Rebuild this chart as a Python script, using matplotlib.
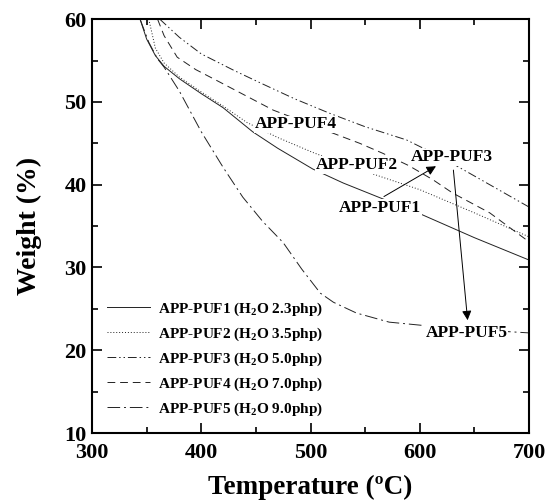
import matplotlib
matplotlib.use('Agg')
import matplotlib.pyplot as plt

plt.rcParams['font.family'] = ['Liberation Serif', 'DejaVu Serif']
plt.rcParams['font.weight'] = 'bold'
plt.rcParams['mathtext.fontset'] = 'custom'
plt.rcParams['mathtext.rm'] = 'Liberation Serif:bold'
plt.rcParams['mathtext.bf'] = 'Liberation Serif:bold'
plt.rcParams['mathtext.it'] = 'Liberation Serif:bold'

# TGA curves (temperature in C, weight in %)
t1 = [344, 350, 358, 366, 380, 400, 420, 447, 470, 502, 530, 564, 600, 650, 700]
w1 = [60, 57.6, 55.6, 54.3, 52.8, 51.0, 49.3, 46.4, 44.4, 41.9, 40.2, 38.4, 36.5, 33.6, 30.9]

t2 = [352, 358, 366, 380, 400, 420, 442, 470, 502, 530, 566, 600, 650, 700]
w2 = [60, 56.5, 54.7, 53.0, 51.2, 49.5, 47.5, 45.7, 43.9, 42.5, 40.9, 39.4, 36.6, 33.7]

t3 = [362, 380, 400, 430, 454, 485, 518, 550, 588, 620, 660, 700]
w3 = [60, 57.8, 55.8, 53.8, 52.3, 50.4, 48.6, 47.0, 45.4, 43.3, 40.3, 37.3]

t4 = [360, 366, 378, 395, 414, 440, 466, 494, 521, 545, 566, 590, 612, 630, 664, 700]
w4 = [60, 58.0, 55.4, 53.9, 52.6, 50.8, 49.0, 47.6, 46.2, 45.0, 43.8, 42.3, 40.6, 39.0, 36.6, 33.1]

t5 = [344, 352, 360, 366, 380, 400, 420, 438, 456, 475, 492, 509, 521, 542, 572, 603, 650, 700]
w5 = [60, 57.2, 55.2, 54.2, 51.3, 46.4, 42.1, 38.5, 35.6, 33.0, 29.8, 26.9, 25.8, 24.5, 23.4, 23.0, 22.5, 22.1]

names = ['APP-PUF1', 'APP-PUF2', 'APP-PUF3', 'APP-PUF4', 'APP-PUF5']
water = ['2.3', '3.5', '5.0', '7.0', '9.0']

fig = plt.figure(figsize=(5.54, 5.03), dpi=100)
ax = fig.add_axes([0.166, 0.139, 0.789, 0.823])

styles = ['-', (0, (1, 2)), (0, (9, 3, 1.5, 3, 1.5, 3)), (0, (8, 5)), (0, (13, 4, 2, 4))]
series = [(t1, w1), (t2, w2), (t3, w3), (t4, w4), (t5, w5)]
for (t, w), ls, n, h in zip(series, styles, names, water):
    ax.plot(t, w, color='#222222', lw=0.7, linestyle=ls,
            label=n + ' (H$_2$O ' + h + 'php)')

# curve labels with white boxes
lab_pos = [(563.6, 37.2), (542.7, 42.4), (629.5, 43.3), (486.7, 47.3), (643, 22.1)]
for n, (x, y) in zip(names, lab_pos):
    ax.text(x, y, n, ha='center', va='center', fontsize=12.5, fontweight='bold',
            bbox=dict(facecolor='white', edgecolor='none', pad=0.5), zorder=5)

# arrows
ax.annotate('', xy=(617, 42.4), xytext=(565, 38.4),
            arrowprops=dict(arrowstyle='-|>', color='k', lw=0.7, mutation_scale=14), zorder=6)
ax.annotate('', xy=(644, 23.3), xytext=(630.5, 42.1),
            arrowprops=dict(arrowstyle='-|>', color='k', lw=0.7, mutation_scale=14), zorder=6)

ax.set_xlim(300, 700)
ax.set_ylim(10, 60)
ax.set_xticks([300, 400, 500, 600, 700])
ax.set_xticks([350, 450, 550, 650], minor=True)
ax.set_yticks([10, 20, 30, 40, 50, 60])
ax.set_yticks([15, 25, 35, 45, 55], minor=True)
ax.tick_params(which='both', direction='in', top=True, right=True, width=1.2)
ax.tick_params(which='major', length=7, labelsize=16, pad=4)
ax.tick_params(axis='x', which='major', pad=7)
ax.tick_params(which='minor', length=4)
for s in ax.spines.values():
    s.set_linewidth(1.5)
for lbl in ax.get_xticklabels() + ax.get_yticklabels():
    lbl.set_fontweight('bold')

ax.set_xlabel('Temperature (ºC)', fontsize=19.5, fontweight='bold', labelpad=9)
ax.set_ylabel('Weight (%)', fontsize=20, fontweight='bold', labelpad=16)

ax.legend(loc='lower left', frameon=False, handlelength=2.8,
          labelspacing=0.5, handletextpad=0.5, borderaxespad=0.6,
          prop={'weight': 'bold', 'size': 11})

fig.savefig('out.png', dpi=100)
